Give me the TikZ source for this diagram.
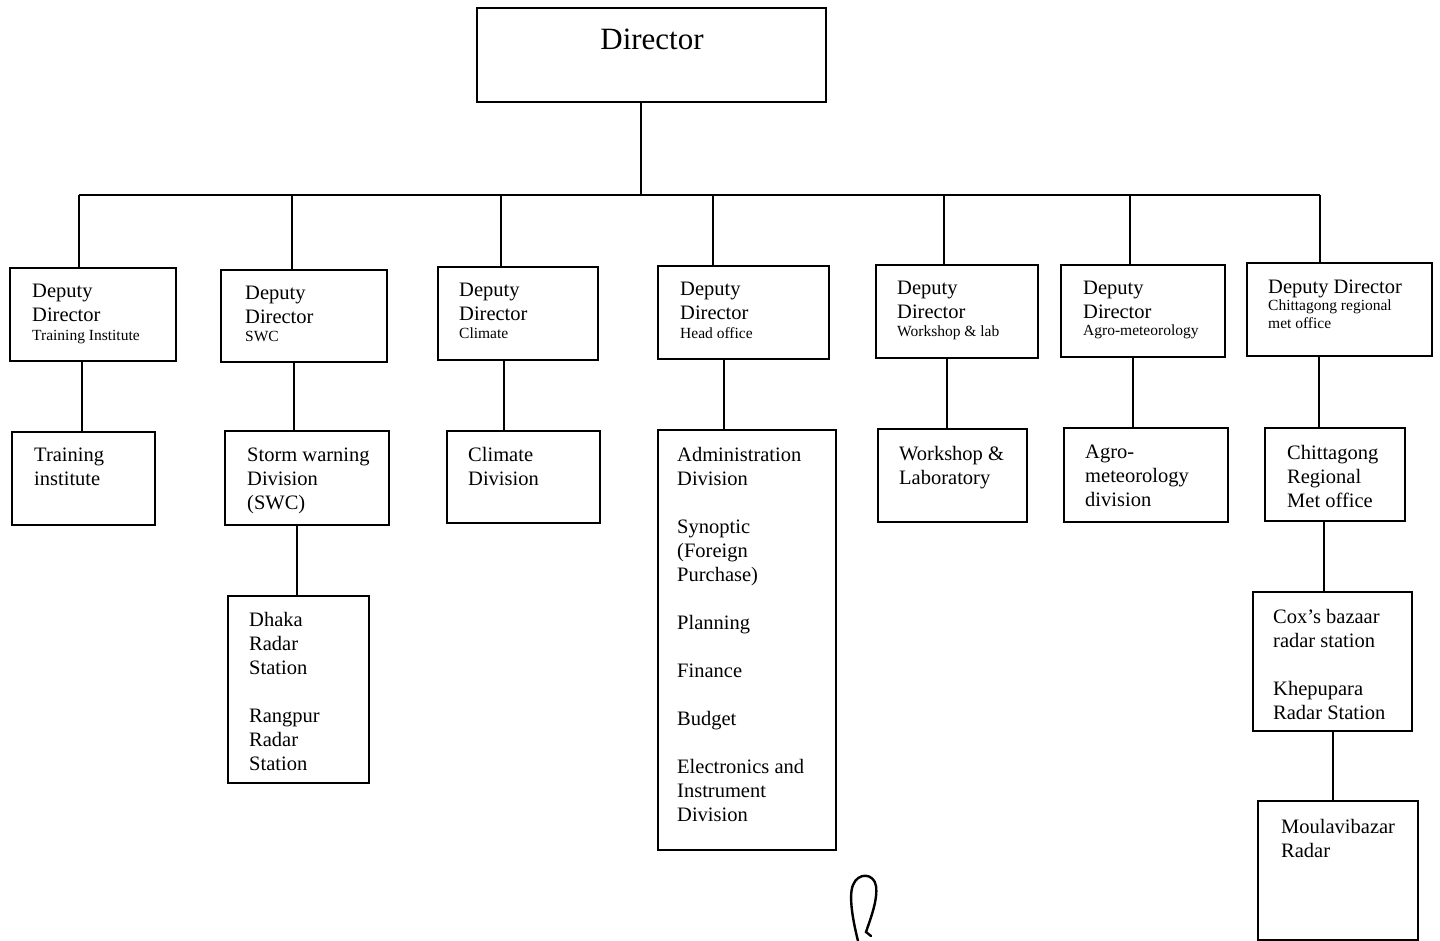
\documentclass[tikz,border=0pt]{standalone}
\usepackage{fontspec}
\setmainfont{Liberation Serif}
\begin{document}
\begin{tikzpicture}[x=1pt,y=-1pt,
  box/.style={draw, line width=1.6pt, rectangle, inner sep=0pt},
  conn/.style={line width=1.4pt},
  txt/.style={anchor=north west, inner sep=0pt, align=left, font=\fontsize{20.5}{24}\selectfont},
  smalltxt/.style={anchor=north west, inner sep=0pt, align=left, font=\fontsize{15.5}{18}\selectfont}]
\useasboundingbox (0,0) rectangle (1440,941);
% Director
\node[box, minimum width=349pt, minimum height=94pt] (dir) at (651.5,55) {};
\node[anchor=north, inner sep=0pt, font=\fontsize{31}{36}\selectfont] (dirt) at (652,29) {Director};
% Deputy directors
\node[box, minimum width=166pt, minimum height=93pt] (dd1) at (93,314.5) {};
\node[box, minimum width=166pt, minimum height=92pt] (dd2) at (304,316) {};
\node[box, minimum width=160pt, minimum height=93pt] (dd3) at (518,313.5) {};
\node[box, minimum width=171pt, minimum height=93pt] (dd4) at (743.5,312.5) {};
\node[box, minimum width=162pt, minimum height=93pt] (dd5) at (957,311.5) {};
\node[box, minimum width=164pt, minimum height=92pt] (dd6) at (1143,311) {};
\node[box, minimum width=185pt, minimum height=93pt] (dd7) at (1339.5,309.5) {};
\node[txt] (dd1t) at (32,284) {Deputy\\Director};
\node[smalltxt] (dd1s) at (32,330) {Training Institute};
\node[txt] (dd2t) at (245,286) {Deputy\\Director};
\node[smalltxt] (dd2s) at (245,331) {SWC};
\node[txt] (dd3t) at (459,283) {Deputy\\Director};
\node[smalltxt] (dd3s) at (459,328) {Climate};
\node[txt] (dd4t) at (680,282) {Deputy\\Director};
\node[smalltxt] (dd4s) at (680,327) {Head office};
\node[txt] (dd5t) at (897,281) {Deputy\\Director};
\node[smalltxt] (dd5s) at (897,326) {Workshop \& lab};
\node[txt] (dd6t) at (1083,281) {Deputy\\Director};
\node[smalltxt] (dd6s) at (1083,325) {Agro-meteorology};
\node[txt] (dd7t) at (1268,280) {Deputy Director};
\node[smalltxt] (dd7s) at (1268,300) {Chittagong regional\\met office};
% Divisions
\node[box, minimum width=143pt, minimum height=93pt] (tr) at (83.5,478.5) {};
\node[box, minimum width=164pt, minimum height=94pt] (sw) at (307,478) {};
\node[box, minimum width=141pt, minimum height=187pt] (rad) at (298.5,689.5) {};
\node[box, minimum width=153pt, minimum height=92pt] (cl) at (523.5,477) {};
\node[box, minimum width=178pt, minimum height=420pt] (adm) at (747,640) {};
\node[box, minimum width=149pt, minimum height=93pt] (ws) at (952.5,475.5) {};
\node[box, minimum width=164pt, minimum height=94pt] (ag) at (1146,475) {};
\node[box, minimum width=140pt, minimum height=93pt] (ch) at (1335,474.5) {};
\node[box, minimum width=159pt, minimum height=139pt] (cox) at (1332.5,661.5) {};
\node[box, minimum width=160pt, minimum height=139pt] (mou) at (1338,870.5) {};
\node[txt] (trt) at (34,448) {Training\\institute};
\node[txt] (swt) at (247,448) {Storm warning\\Division\\(SWC)};
\node[txt] (radt) at (249,612) {Dhaka\\Radar\\Station\\[24pt]Rangpur\\Radar\\Station};
\node[txt] (clt) at (468,447) {Climate\\Division};
\node[txt] (admt) at (677,447) {Administration\\Division\\[24pt]Synoptic\\(Foreign\\Purchase)\\[24pt]Planning\\[24pt]Finance\\[24pt]Budget\\[24pt]Electronics and\\Instrument\\Division};
\node[txt] (wst) at (899,446) {Workshop \&\\Laboratory};
\node[txt] (agt) at (1085,445) {Agro-\\meteorology\\division};
\node[txt] (cht) at (1287,445) {Chittagong\\Regional\\Met office};
\node[txt] (coxt) at (1273,609) {Cox's bazaar\\radar station\\[24pt]Khepupara\\Radar Station};
\node[txt] (mout) at (1281,819) {Moulavibazar\\Radar};
% Bus coordinates
\coordinate (bus) at (641,195);
\coordinate (b1) at (79,195);
\coordinate (b2) at (292,195);
\coordinate (b3) at (501,195);
\coordinate (b4) at (713,195);
\coordinate (b5) at (944,195);
\coordinate (b6) at (1130,195);
\coordinate (b7) at (1320,195);
\coordinate (k1) at (82,0);
\coordinate (k2) at (294,0);
\coordinate (k2b) at (297,0);
\coordinate (k3) at (504,0);
\coordinate (k4) at (724,0);
\coordinate (k5) at (947,0);
\coordinate (k6) at (1133,0);
\coordinate (k7) at (1319,0);
\coordinate (k7b) at (1324,0);
\coordinate (k7c) at (1333,0);
% Connectors
\draw[conn] (dir.south -| bus) -- (bus);
\draw[conn] (b1) -- (b7);
\draw[conn] (b1) -- (b1 |- dd1.north);
\draw[conn] (b2) -- (b2 |- dd2.north);
\draw[conn] (b3) -- (b3 |- dd3.north);
\draw[conn] (b4) -- (b4 |- dd4.north);
\draw[conn] (b5) -- (b5 |- dd5.north);
\draw[conn] (b6) -- (b6 |- dd6.north);
\draw[conn] (b7) -- (b7 |- dd7.north);
\draw[conn] (k1 |- dd1.south) -- (k1 |- tr.north);
\draw[conn] (k2 |- dd2.south) -- (k2 |- sw.north);
\draw[conn] (k2b |- sw.south) -- (k2b |- rad.north);
\draw[conn] (k3 |- dd3.south) -- (k3 |- cl.north);
\draw[conn] (k4 |- dd4.south) -- (k4 |- adm.north);
\draw[conn] (k5 |- dd5.south) -- (k5 |- ws.north);
\draw[conn] (k6 |- dd6.south) -- (k6 |- ag.north);
\draw[conn] (k7 |- dd7.south) -- (k7 |- ch.north);
\draw[conn] (k7b |- ch.south) -- (k7b |- cox.north);
\draw[conn] (k7c |- cox.south) -- (k7c |- mou.north);
% scribble
\draw[line width=2.4pt, line cap=round] (858,941) .. controls (854,925) and (848,897) .. (853,885) .. controls (858,872) and (874,873) .. (876,886) .. controls (878,900) and (870,920) .. (866,932) -- (871,936);
\end{tikzpicture}
\end{document}
